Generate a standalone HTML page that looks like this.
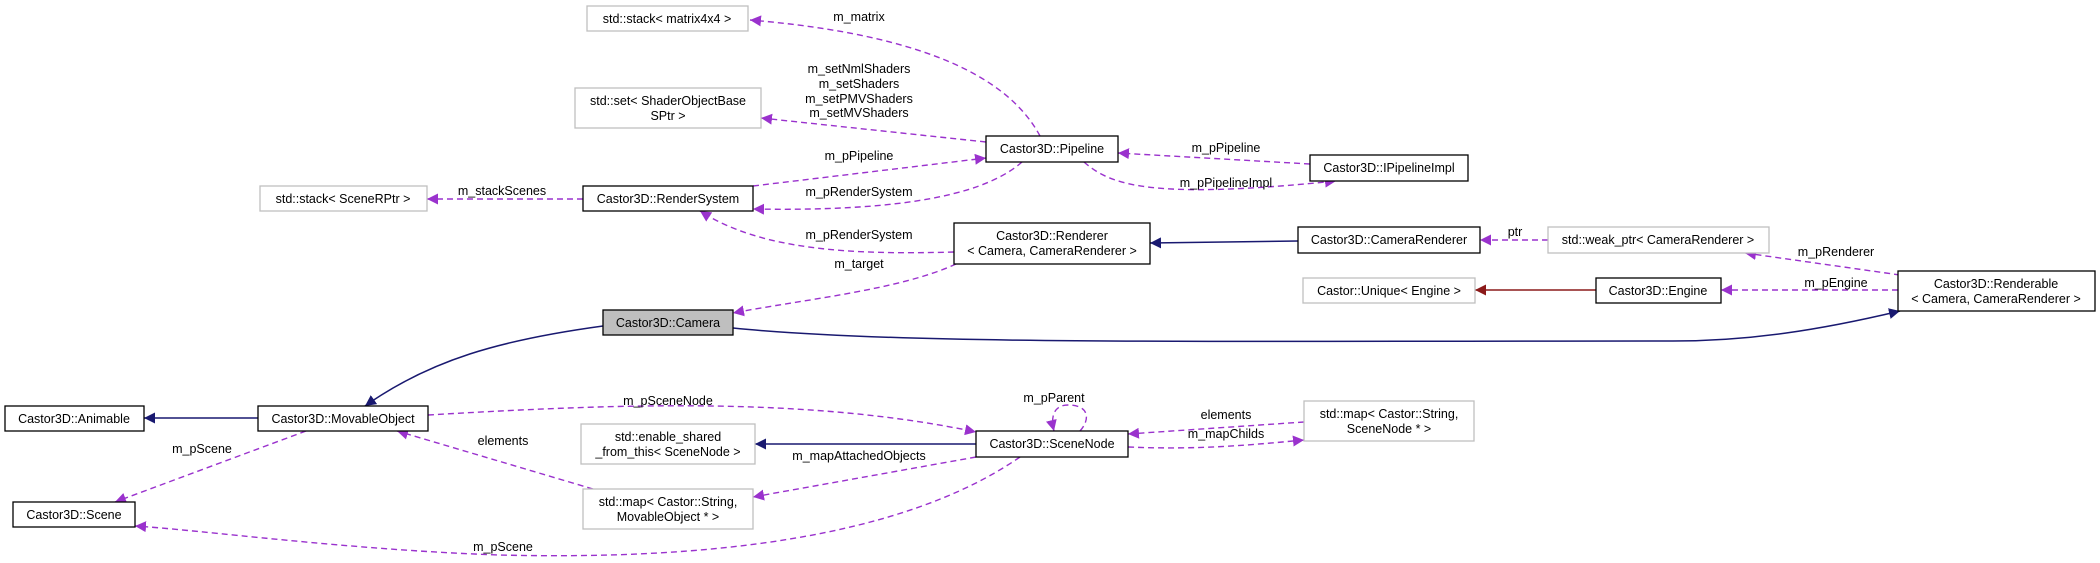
<!DOCTYPE html>
<html><head><meta charset="utf-8"><style>
html,body{margin:0;padding:0;background:#fff;}
svg{display:block;font-family:"Liberation Sans",sans-serif;font-size:12.5px;}
</style></head><body>
<svg width="2100" height="563" viewBox="0 0 2100 563" xmlns="http://www.w3.org/2000/svg">
<defs>
<marker id="p" viewBox="0 0 10 10" refX="10" refY="5" markerWidth="11" markerHeight="11" markerUnits="userSpaceOnUse" orient="auto"><path d="M0,0 L10,5 L0,10 z" fill="#9a32cd"/></marker>
<marker id="n" viewBox="0 0 10 10" refX="10" refY="5" markerWidth="11" markerHeight="11" markerUnits="userSpaceOnUse" orient="auto"><path d="M0,0 L10,5 L0,10 z" fill="#191970"/></marker>
<marker id="r" viewBox="0 0 10 10" refX="10" refY="5" markerWidth="11" markerHeight="11" markerUnits="userSpaceOnUse" orient="auto"><path d="M0,0 L10,5 L0,10 z" fill="#8b1a1a"/></marker>
</defs>
<g fill="none" stroke="#9a32cd" stroke-width="1.4" stroke-dasharray="6,4">
<path d="M1040,136 C1010,80 930,35 750,20" marker-end="url(#p)"/>
<path d="M986,142 L761,118" marker-end="url(#p)"/>
<path d="M753,186 L986,158" marker-end="url(#p)"/>
<path d="M1022,162 C990,190 920,212 753,209" marker-end="url(#p)"/>
<path d="M1310,164 L1118,153" marker-end="url(#p)"/>
<path d="M1084,162 C1110,185 1150,200 1336,181" marker-end="url(#p)"/>
<path d="M583,199 L427,199" marker-end="url(#p)"/>
<path d="M954,252 C850,255 760,250 700,211" marker-end="url(#p)"/>
<path d="M956,264 C900,290 800,300 733,313" marker-end="url(#p)"/>
<path d="M1548,240 L1480,240" marker-end="url(#p)"/>
<path d="M1900,275 L1745,253" marker-end="url(#p)"/>
<path d="M1898,290 L1721,290" marker-end="url(#p)"/>
<path d="M428,415 C600,405 800,395 976,432" marker-end="url(#p)"/>
<path d="M306,431 L115,502" marker-end="url(#p)"/>
<path d="M593,489 L397,431" marker-end="url(#p)"/>
<path d="M976,457 L753,497" marker-end="url(#p)"/>
<path d="M1020,457 C900,540 700,560 500,555 C350,550 200,530 135,526" marker-end="url(#p)"/>
<path d="M1080,431 C1090,420 1090,405 1068,405 C1055,405 1050,415 1054,431" marker-end="url(#p)"/>
<path d="M1304,422 L1128,434" marker-end="url(#p)"/>
<path d="M1128,447 C1200,450 1250,445 1304,440" marker-end="url(#p)"/>
</g>
<g fill="none" stroke="#191970" stroke-width="1.5">
<path d="M1298,241 L1150,243" marker-end="url(#n)"/>
<path d="M733,328 C900,345 1200,341 1673,341 C1750,341 1820,330 1900,311" marker-end="url(#n)"/>
<path d="M603,326 C500,340 430,360 365,406" marker-end="url(#n)"/>
<path d="M258,418 L144,418" marker-end="url(#n)"/>
<path d="M976,444 L755,444" marker-end="url(#n)"/>
</g>
<path d="M1596,290 L1475,290" fill="none" stroke="#8b1a1a" stroke-width="1.5" marker-end="url(#r)"/>
<g stroke-width="1.3">
<g fill="#fff" stroke="#bfbfbf">
<rect x="587" y="6" width="161" height="25"/>
<rect x="575" y="88" width="186" height="40"/>
<rect x="260" y="186" width="167" height="25"/>
<rect x="1548" y="227" width="221" height="26"/>
<rect x="1303" y="278" width="172" height="25"/>
<rect x="581" y="424" width="174" height="40"/>
<rect x="583" y="489" width="170" height="40"/>
<rect x="1304" y="401" width="170" height="40"/>
</g>
<g fill="#fff" stroke="#000">
<rect x="986" y="136" width="132" height="26"/>
<rect x="583" y="186" width="170" height="25"/>
<rect x="1310" y="155" width="158" height="26"/>
<rect x="954" y="223" width="196" height="41"/>
<rect x="1298" y="227" width="182" height="26"/>
<rect x="1596" y="278" width="125" height="25"/>
<rect x="1898" y="271" width="197" height="40"/>
<rect x="603" y="310" width="130" height="25" fill="#bfbfbf"/>
<rect x="5" y="406" width="139" height="25"/>
<rect x="258" y="406" width="170" height="25"/>
<rect x="13" y="502" width="122" height="25"/>
<rect x="976" y="431" width="152" height="26"/>
</g>
</g>
<g fill="#000" text-anchor="middle">
<text x="667" y="23">std::stack&lt; matrix4x4 &gt;</text>
<text x="668" y="105">std::set&lt; ShaderObjectBase</text>
<text x="668" y="120">SPtr &gt;</text>
<text x="343" y="203">std::stack&lt; SceneRPtr &gt;</text>
<text x="1052" y="153">Castor3D::Pipeline</text>
<text x="668" y="203">Castor3D::RenderSystem</text>
<text x="1389" y="172">Castor3D::IPipelineImpl</text>
<text x="1052" y="240">Castor3D::Renderer</text>
<text x="1052" y="255">&lt; Camera, CameraRenderer &gt;</text>
<text x="1389" y="244">Castor3D::CameraRenderer</text>
<text x="1658" y="244">std::weak_ptr&lt; CameraRenderer &gt;</text>
<text x="1389" y="295">Castor::Unique&lt; Engine &gt;</text>
<text x="1658" y="295">Castor3D::Engine</text>
<text x="1996" y="288">Castor3D::Renderable</text>
<text x="1996" y="303">&lt; Camera, CameraRenderer &gt;</text>
<text x="668" y="327">Castor3D::Camera</text>
<text x="74" y="423">Castor3D::Animable</text>
<text x="343" y="423">Castor3D::MovableObject</text>
<text x="74" y="519">Castor3D::Scene</text>
<text x="668" y="441">std::enable_shared</text>
<text x="668" y="456">_from_this&lt; SceneNode &gt;</text>
<text x="668" y="506">std::map&lt; Castor::String,</text>
<text x="668" y="521">MovableObject * &gt;</text>
<text x="1052" y="448">Castor3D::SceneNode</text>
<text x="1389" y="418">std::map&lt; Castor::String,</text>
<text x="1389" y="433">SceneNode * &gt;</text>
<!-- edge labels -->
<text x="859" y="21">m_matrix</text>
<text x="859" y="73">m_setNmlShaders</text>
<text x="859" y="88">m_setShaders</text>
<text x="859" y="103">m_setPMVShaders</text>
<text x="859" y="117">m_setMVShaders</text>
<text x="859" y="160">m_pPipeline</text>
<text x="502" y="195">m_stackScenes</text>
<text x="859" y="196">m_pRenderSystem</text>
<text x="859" y="239">m_pRenderSystem</text>
<text x="859" y="268">m_target</text>
<text x="1226" y="152">m_pPipeline</text>
<text x="1226" y="187">m_pPipelineImpl</text>
<text x="1515" y="236">ptr</text>
<text x="1836" y="256">m_pRenderer</text>
<text x="1836" y="287">m_pEngine</text>
<text x="668" y="405">m_pSceneNode</text>
<text x="503" y="445">elements</text>
<text x="202" y="453">m_pScene</text>
<text x="859" y="460">m_mapAttachedObjects</text>
<text x="503" y="551">m_pScene</text>
<text x="1054" y="402">m_pParent</text>
<text x="1226" y="419">elements</text>
<text x="1226" y="438">m_mapChilds</text>
</g>
</svg>
</body></html>
